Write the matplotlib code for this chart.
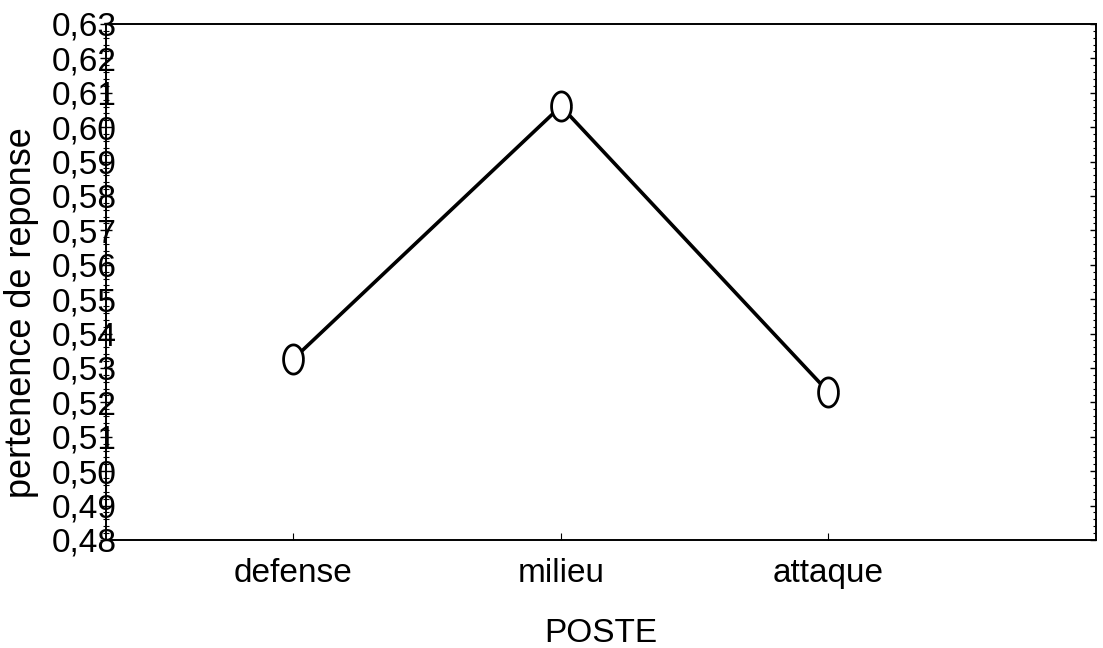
import matplotlib
matplotlib.use('Agg')
import matplotlib.pyplot as plt
from matplotlib.path import Path
from matplotlib.ticker import MultipleLocator, FuncFormatter
import numpy as np

plt.rcParams['font.family'] = ['Liberation Sans', 'DejaVu Sans']

# data
postes = ['defense', 'milieu', 'attaque']
pertenence = [0.5326, 0.6061, 0.5230]
y_ticks = [0.48, 0.49, 0.50, 0.51, 0.52, 0.53, 0.54, 0.55,
           0.56, 0.57, 0.58, 0.59, 0.60, 0.61, 0.62, 0.63]

# ellipse marker, taller than wide
t = np.linspace(0, 2*np.pi, 60)
ellipse = Path(np.column_stack([0.68*np.cos(t), np.sin(t)]))

fig = plt.figure(figsize=(11.03, 6.48), dpi=100)
ax = fig.add_axes([0.0961, 0.1667, 0.8976, 0.7963])

x = np.arange(len(postes))
ax.plot(x, pertenence, color='black', lw=2.6, marker=ellipse, ms=21,
        mfc='white', mec='black', mew=2.0, zorder=3)

ax.set_xlim(-0.7, 3.0)
ax.set_ylim(0.48, 0.63)
ax.set_xticks(x)
ax.set_xticklabels(postes, fontsize=24)
ax.set_yticks(y_ticks)
ax.yaxis.set_major_formatter(FuncFormatter(lambda v, p: f'{v:.2f}'.replace('.', ',')))
ax.yaxis.set_minor_locator(MultipleLocator(0.002))
ax.tick_params(axis='y', which='both', direction='inout', labelsize=24, pad=-12)
ax.tick_params(axis='y', which='major', length=8, width=1)
ax.tick_params(axis='y', which='minor', length=4, width=0.8)
ax.tick_params(axis='x', direction='in', length=5, pad=13)

# right side: inward ticks only
ax2 = ax.twinx()
ax2.set_ylim(ax.get_ylim())
ax2.set_yticks(y_ticks)
ax2.yaxis.set_minor_locator(MultipleLocator(0.002))
ax2.tick_params(axis='y', which='both', direction='in', labelright=False)
ax2.tick_params(axis='y', which='major', length=4, width=1)
ax2.tick_params(axis='y', which='minor', length=2.5, width=0.8)

for a in (ax, ax2):
    for s in a.spines.values():
        s.set_linewidth(1.2)

ax.set_xlabel('POSTE', fontsize=24, labelpad=21)
ax.set_ylabel('pertenence de reponse', fontsize=26)
ax.yaxis.set_label_coords(-0.068, 0.44)

fig.savefig('out.png', dpi=100)
